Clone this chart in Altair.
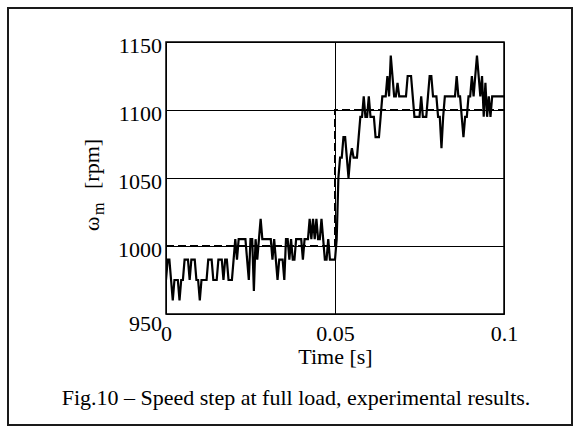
import altair as alt
import pandas as pd

# ---------------- data ----------------
sample_period_s = 0.0005
speed_rpm = [
    975, 990, 990, 975, 960, 975, 975, 975, 960, 975,
    975, 990, 990, 990, 975, 990, 990, 990, 975, 975,
    960, 975, 975, 975, 975, 990, 990, 990, 975, 975,
    975, 990, 990, 990, 975, 990, 990, 975, 975, 975,
    990, 1005, 990, 1005, 1005, 1005, 1005, 1005, 990, 975,
    1005, 1005, 967, 1005, 990, 1005, 1020, 1005, 1005, 1005,
    1005, 1005, 1005, 990, 1005, 990, 975, 990, 990, 990,
    975, 1005, 1005, 990, 1005, 990, 990, 1005, 1005, 1005,
    1005, 990, 1005, 1005, 1005, 1020, 1005, 1020, 1005, 1020,
    1005, 1005, 1020, 1005, 990, 990, 1005, 990, 990, 990,
    990, 1005, 1050, 1065, 1065, 1080, 1080, 1065, 1050, 1065,
    1072, 1065, 1065, 1065, 1080, 1095, 1095, 1110, 1095, 1095,
    1110, 1095, 1095, 1095, 1080, 1080, 1080, 1095, 1110, 1110,
    1110, 1125, 1110, 1140, 1125, 1110, 1110, 1120, 1110, 1110,
    1110, 1110, 1110, 1125, 1125, 1125, 1110, 1095, 1095, 1095,
    1095, 1110, 1095, 1095, 1095, 1110, 1125, 1125, 1110, 1110,
    1110, 1095, 1095, 1072, 1095, 1110, 1110, 1110, 1110, 1110,
    1110, 1110, 1125, 1110, 1110, 1095, 1080, 1095, 1095, 1110,
    1110, 1125, 1110, 1125, 1140, 1125, 1110, 1125, 1095, 1120,
    1095, 1110, 1095, 1110, 1110, 1110, 1110, 1110, 1110, 1110,
    1110,
]
ref_time_s = [0.0, 0.05, 0.05, 0.1]
ref_speed_rpm = [1000, 1000, 1100, 1100]
x_ticks = [0, 0.05, 0.1]
y_ticks = [950, 1000, 1050, 1100, 1150]
caption = "Fig.10 \u2013 Speed step at full load, experimental results."

meas = pd.DataFrame({
    "t": [i * sample_period_s for i in range(len(speed_rpm))],
    "w": speed_rpm,
    "k": list(range(len(speed_rpm))),
})
ref = pd.DataFrame({"t": ref_time_s, "w": ref_speed_rpm, "k": list(range(len(ref_time_s)))})
one = pd.DataFrame({"a": [0]})

FONT = "Liberation Serif"
W, H = 338, 272
L, T = 166, 42

x_enc = alt.X(
    "t:Q",
    scale=alt.Scale(domain=[0, 0.1], nice=False, zero=False),
    axis=alt.Axis(
        values=x_ticks, format="~g", title="Time [s]",
        grid=True, gridColor="black", gridWidth=1, gridOpacity=1,
        domain=False, ticks=False, tickSize=0,
        labelFont=FONT, labelFontSize=22, labelColor="black",
        labelPadding=9, labelFlush=False,
        titleFont=FONT, titleFontSize=22, titleFontWeight="normal",
        titleColor="black", titleBaseline="alphabetic", titleY=49,
    ),
)
y_enc = alt.Y(
    "w:Q",
    scale=alt.Scale(domain=[950, 1150], nice=False, zero=False),
    axis=alt.Axis(
        values=y_ticks, format="d", title=None,
        grid=True, gridColor="black", gridWidth=1, gridOpacity=1,
        domain=False, ticks=False, tickSize=0,
        labelFont=FONT, labelFontSize=22, labelColor="black",
        labelPadding=4.5, labelFlush=False,
        labelOffset={"condition": {"test": "datum.value == 950", "value": 9}, "value": 3},
    ),
)

ref_line = alt.Chart(ref).mark_line(
    color="black", strokeWidth=2, strokeDash=[8, 4], clip=True
).encode(x=x_enc, y=y_enc, order="k:Q")

meas_line = alt.Chart(meas).mark_line(
    color="black", strokeWidth=2.2, clip=True
).encode(x=x_enc, y=y_enc, order="k:Q")

def txt(s, x, y, size=22, angle=0, align="left", baseline="alphabetic"):
    kw = dict(font=FONT, fontSize=size, color="black", align=align, baseline=baseline, text=s)
    if angle:
        kw["angle"] = angle
    return alt.Chart(one).mark_text(**kw).encode(x=alt.value(x), y=alt.value(y))

ytitle_w = txt("\u03c9", 99 - L, 231 - T, angle=270)
ytitle_m = txt("m", 104 - L, 215 - T, size=16, angle=270)
ytitle_u = txt("[rpm]", 99 - L, 189 - T, angle=270)
cap = txt(caption, 296 - L, 405 - T, align="center")

frame = alt.Chart(one).mark_rect(
    fill=None, fillOpacity=0, stroke="#1a1a1a", strokeWidth=2
).encode(
    x=alt.value(8 - L), x2=alt.value(572 - L),
    y=alt.value(8 - T), y2=alt.value(425 - T),
)

chart = alt.layer(
    ref_line, meas_line, ytitle_w, ytitle_m, ytitle_u, cap, frame
).properties(
    width=W, height=H,
    padding={"left": L, "top": T, "right": 581 - L - W, "bottom": 432 - T - H},
    autosize=alt.AutoSizeParams(type="none"),
    background="white",
).configure_view(
    stroke="black", strokeWidth=1.5
).configure_axis(
    labelFont=FONT, labelFontSize=22, labelColor="black",
    titleFont=FONT, titleFontSize=22, titleFontWeight="normal", titleColor="black",
).configure_text(font=FONT)

chart.save("out.html", embed_options={"renderer": "svg", "actions": False})
